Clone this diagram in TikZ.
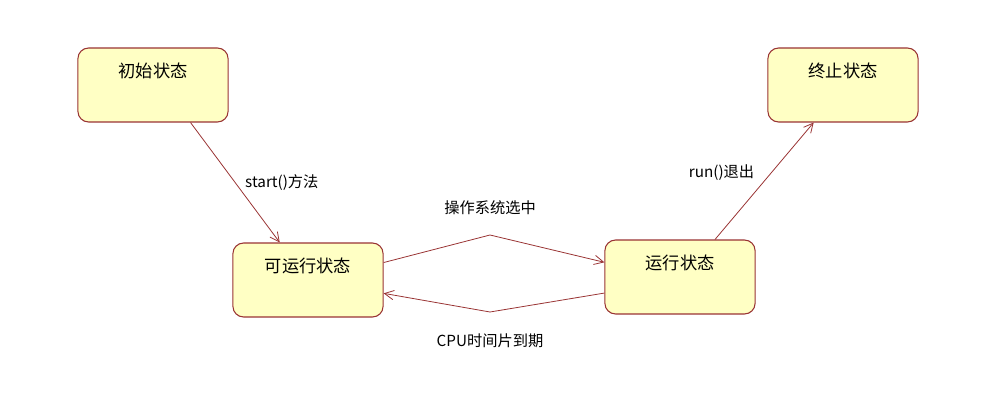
\documentclass[tikz,border=0pt]{standalone}
\usepackage{fontspec}
\setmainfont{Noto Sans CJK SC}
\usetikzlibrary{arrows.meta}
\definecolor{rand}{HTML}{993333}
\definecolor{fuell}{HTML}{FFFFC4}
\begin{document}
\begin{tikzpicture}[x=0.0265cm, y=-0.0265cm]
	\tikzset{zustand/.style={draw=rand, fill=fuell, thick, rounded corners=8pt, minimum width=3.98cm, minimum height=1.96cm, inner sep=0pt},
	pfeil/.style={rand, semithick, -{Straight Barb[length=7pt, width=7pt]}},
	schrift/.style={font=\fontsize{13}{15}\selectfont},
	beschr/.style={text=black, font=\fontsize{11.5}{13}\selectfont}};

	\useasboundingbox (0,0) rectangle (988,407);

	\foreach \name/\x/\y/\txt in {init/153/85/初始状态, ende/843/85/终止状态, bereit/308/280/可运行状态, laufend/680/277/运行状态}{
		\node[zustand, label={[schrift, anchor=north, yshift=-8pt]north:\txt}] (\name) at (\x,\y) {};
	}

	\coordinate (oben) at (490,235);
	\coordinate (unten) at (490,312);

	\draw[pfeil] (init.-45) -- node[beschr, right, xshift=4pt] {start()方法} (bereit.127);
	\draw[pfeil] (bereit.13) -- (oben) -- (laufend.169);
	\draw[pfeil] (laufend.192) -- (unten) -- (bereit.-10);
	\draw[pfeil] (laufend.47) -- node[beschr, left, xshift=-4pt, yshift=6pt] {run()退出} (ende.232);
	\node[beschr, above=12pt] (wahl) at (oben) {操作系统选中};
	\node[beschr, below=13pt] (zeit) at (unten) {CPU时间片到期};

\end{tikzpicture}
\end{document}
